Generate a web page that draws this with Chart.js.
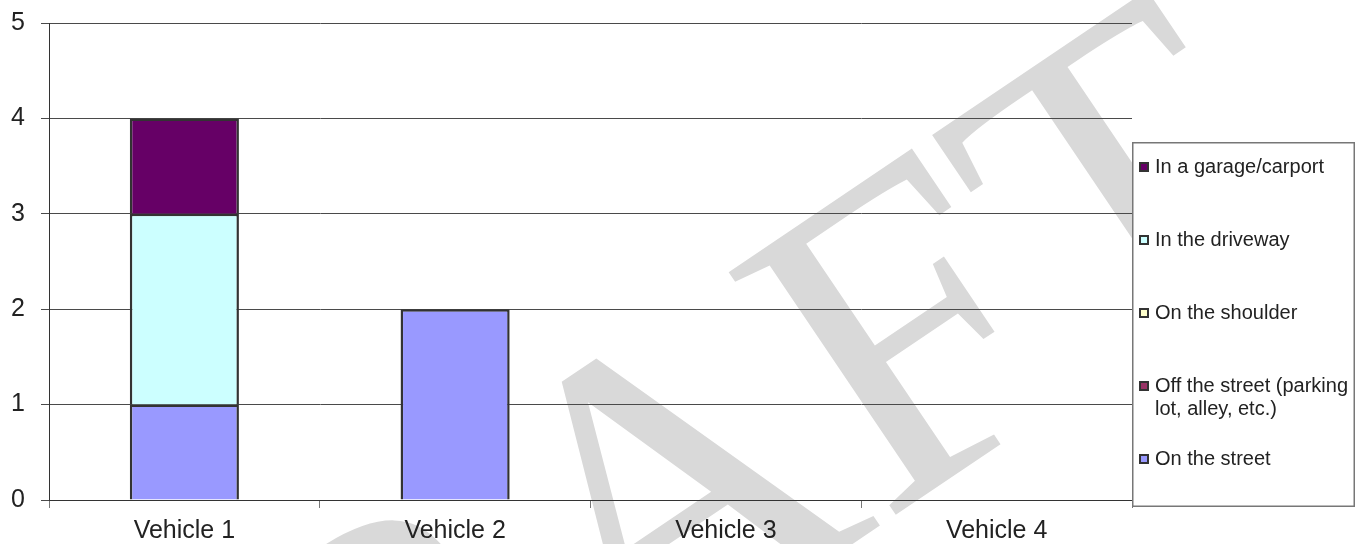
<!DOCTYPE html>
<html><head><meta charset="utf-8">
<script src="https://cdn.jsdelivr.net/npm/chart.js@4.4.1/dist/chart.umd.min.js"></script>
<style>html,body{margin:0;padding:0;background:#fff;}#wrap{width:1356px;height:544px;position:relative;}</style>
</head><body><div id="wrap"><canvas id="c"></canvas></div>
<script>
const categories = ['Vehicle 1', 'Vehicle 2', 'Vehicle 3', 'Vehicle 4'];
const seriesNames = ['On the street', 'Off the street (parking lot, alley, etc.)', 'On the shoulder', 'In the driveway', 'In a garage/carport'];
const onTheStreet   = [1, 2, 0, 0];
const offTheStreet  = [0, 0, 0, 0];
const onTheShoulder = [0, 0, 0, 0];
const inTheDriveway = [2, 0, 0, 0];
const inAGarage     = [1, 0, 0, 0];
const seriesColors = ['#9999FF', '#993366', '#FFFFCC', '#CCFFFF', '#660066'];
const yTickValues = [0, 1, 2, 3, 4, 5];
const watermarkText = 'DRAFT';

const seriesValues = [onTheStreet, offTheStreet, onTheShoulder, inTheDriveway, inAGarage];

Chart.defaults.font.family = '"Liberation Sans", Arial, sans-serif';

const watermarkPlugin = {
  id: 'watermark',
  beforeDraw(chart) {
    const ctx = chart.ctx;
    ctx.save();
    ctx.translate(95, 1055);
    ctx.rotate(-34 * Math.PI / 180);
    ctx.font = '450px "Liberation Serif", "Times New Roman", serif';
    ctx.fillStyle = '#d9d9d9';
    ctx.textAlign = 'left';
    ctx.textBaseline = 'alphabetic';
    ctx.fillText(watermarkText, 0, 0);
    ctx.restore();
  }
};

const boxLegendPlugin = {
  id: 'boxLegend',
  afterDraw(chart) {
    const ctx = chart.ctx;
    const x0 = Math.round(chart.chartArea.right), y0 = 142, x1 = 1355, y1 = 507;
    ctx.save();
    ctx.fillStyle = '#ffffff';
    ctx.fillRect(x0, y0, x1 - x0, y1 - y0);
    ctx.strokeStyle = '#777777';
    ctx.lineWidth = 1.5;
    ctx.strokeRect(x0 + 0.75, y0 + 0.75, x1 - x0 - 1.5, y1 - y0 - 1.5);
    ctx.font = '20px "Liberation Sans", Arial, sans-serif';
    ctx.textBaseline = 'middle';
    ctx.textAlign = 'left';
    const textX = 1155, maxW = 203, firstY = 167, step = 73, lineH = 23;
    const ds = chart.data.datasets.slice().reverse();
    ds.forEach((d, i) => {
      const y = firstY + i * step;
      ctx.fillStyle = d.backgroundColor;
      ctx.fillRect(1139, y - 5, 10, 10);
      ctx.strokeStyle = '#333333';
      ctx.lineWidth = 2;
      ctx.strokeRect(1140, y - 4, 8, 8);
      const words = d.label.split(' ');
      const lines = [];
      let cur = '';
      words.forEach(w => {
        const t = cur ? cur + ' ' + w : w;
        if (ctx.measureText(t).width > maxW && cur) { lines.push(cur); cur = w; } else cur = t;
      });
      if (cur) lines.push(cur);
      ctx.fillStyle = '#222222';
      lines.forEach((l, k) => ctx.fillText(l, textX, y + k * lineH));
    });
    ctx.restore();
  }
};

new Chart(document.getElementById('c'), {
  type: 'bar',
  data: {
    labels: categories,
    datasets: seriesNames.map((name, i) => ({
      label: name,
      data: seriesValues[i],
      backgroundColor: seriesColors[i],
      borderColor: '#333333',
      borderWidth: 2.5,
      barPercentage: 0.403,
      categoryPercentage: 1
    }))
  },
  options: {
    responsive: true,
    maintainAspectRatio: false,
    animation: false,
    events: [],
    layout: { padding: { left: 0, right: 224, top: 23, bottom: 0 } },
    plugins: { legend: { display: false }, tooltip: { enabled: false }, title: { display: false } },
    scales: {
      x: {
        stacked: true,
        grid: { display: true, drawOnChartArea: false, drawTicks: true, tickLength: 8, color: '#777777', offset: true },
        border: { display: true, color: '#333333', width: 1 },
        ticks: { font: { size: 25 }, color: '#222222', padding: 8, maxRotation: 0 },
        afterFit(s) { s.height = 44; s.paddingLeft = 0; s.paddingRight = 0; }
      },
      y: {
        stacked: true,
        min: 0,
        max: 5,
        afterBuildTicks(s) { s.ticks = yTickValues.map(v => ({ value: v })); },
        grid: { color: '#4a4a4a', lineWidth: 1, tickLength: 8, drawTicks: true },
        border: { display: true, color: '#333333', width: 1 },
        ticks: { font: { size: 25 }, color: '#222222', padding: 16 },
        afterFit(s) { s.width = 49; s.paddingTop = 0; s.paddingBottom = 0; }
      }
    }
  },
  plugins: [watermarkPlugin, boxLegendPlugin]
});
</script>
</body></html>
